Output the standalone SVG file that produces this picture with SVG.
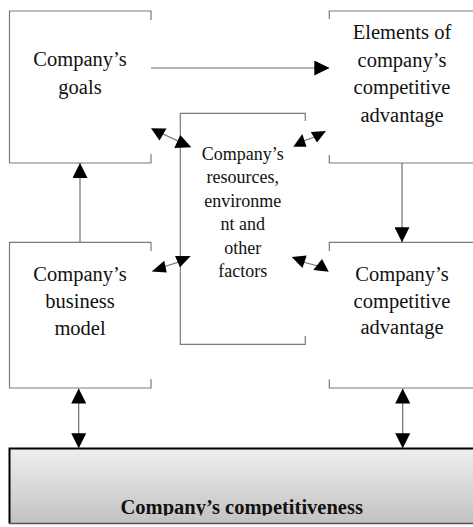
<svg xmlns="http://www.w3.org/2000/svg" width="473" height="527" viewBox="0 0 473 527">
<defs>
<style>
.b{fill:none;stroke:#7a7a7a;stroke-width:1.2}
.c{fill:none;stroke:#6e6e6e;stroke-width:1.2}
.h{fill:#000}
.t{font-family:"Liberation Serif","Times New Roman",serif;font-size:20.5px;fill:#111;text-anchor:middle}
.m{font-family:"Liberation Serif","Times New Roman",serif;font-size:18px;fill:#111;text-anchor:middle}
.k{font-family:"Liberation Serif","Times New Roman",serif;font-size:20.5px;font-weight:bold;fill:#111;text-anchor:middle}
</style>
<marker id="ah" viewBox="0 0 15 15" refX="15" refY="7.5" markerWidth="15" markerHeight="15" markerUnits="userSpaceOnUse" orient="auto-start-reverse">
<path d="M0,0 L15,7.5 L0,15 z" fill="#000"/>
</marker>
<linearGradient id="g" x1="0" y1="0" x2="0" y2="1">
<stop offset="0" stop-color="#efefef"/>
<stop offset="1" stop-color="#c2c2c2"/>
</linearGradient>
<clipPath id="clipB"><rect x="0" y="440" width="473" height="75.5"/></clipPath>
</defs>
<rect width="473" height="527" fill="#fff"/>

<g id="goals">
<path class="b" d="M151,20 V11 H9.5 V163 H151 V154"/>
<text class="t" x="80" y="65.7">Company’s</text>
<text class="t" x="80" y="94">goals</text>
</g>

<g id="elements">
<path class="b" d="M329.3,19 V11 H474"/>
<path class="b" d="M329.3,155 V163 H474"/>
<text class="t" x="402" y="39.3">Elements of</text>
<text class="t" x="402" y="66.7">company’s</text>
<text class="t" x="402" y="94.3">competitive</text>
<text class="t" x="402" y="121.7">advantage</text>
</g>

<g id="resources">
<path class="b" d="M305.3,121 V113.3 H180.3 V344.3 H305.3 V336"/>
<text class="m" x="242.8" y="160">Company’s</text>
<text class="m" x="242.8" y="183.3">resources,</text>
<text class="m" x="242.8" y="206.7">environme</text>
<text class="m" x="242.8" y="230">nt and</text>
<text class="m" x="242.8" y="253.5">other</text>
<text class="m" x="242.8" y="276.7">factors</text>
</g>

<g id="business-model">
<path class="b" d="M151,251 V242.3 H9.5 V388 H151 V379"/>
<text class="t" x="80" y="281">Company’s</text>
<text class="t" x="80" y="307.7">business</text>
<text class="t" x="80" y="335">model</text>
</g>

<g id="competitive-advantage">
<path class="b" d="M329.3,251 V242.3 H474"/>
<path class="b" d="M329.3,379.5 V388 H474"/>
<text class="t" x="402" y="281">Company’s</text>
<text class="t" x="402" y="307.7">competitive</text>
<text class="t" x="402" y="334">advantage</text>
</g>

<g id="competitiveness">
<rect x="9.5" y="448.5" width="470" height="75" fill="url(#g)" stroke="none"/>
<path d="M9.5,523.5 V448.5 H474" fill="none" stroke="#000" stroke-width="2"/>
<path d="M9.5,523.5 H474" fill="none" stroke="#555" stroke-width="1.5"/>
<text class="k" x="241.7" y="514" clip-path="url(#clipB)">Company’s competitiveness</text>
</g>

<g id="connectors">
<line class="c" x1="151" y1="68" x2="329.3" y2="68" marker-end="url(#ah)"/>
<line class="c" x1="402" y1="163" x2="402" y2="242.3" marker-end="url(#ah)"/>
<line class="c" x1="80" y1="242.3" x2="80" y2="163" marker-end="url(#ah)"/>
<line class="c" x1="78.7" y1="388.5" x2="78.7" y2="448.3" marker-start="url(#ah)" marker-end="url(#ah)"/>
<line class="c" x1="402.7" y1="388.5" x2="402.7" y2="448.3" marker-start="url(#ah)" marker-end="url(#ah)"/>

<line class="c" x1="163" y1="134" x2="178" y2="141"/>
<polygon class="h" points="151,128.3 166.5,128.5 159.5,140.5"/>
<polygon class="h" points="180.3,135 174.3,148 191.3,147.3"/>

<line class="c" x1="303" y1="141" x2="315" y2="137"/>
<polygon class="h" points="293.3,146.7 306.5,146.7 302.3,134"/>
<polygon class="h" points="310.8,132 326,131 317,142.5"/>

<line class="c" x1="163" y1="267" x2="179" y2="262"/>
<polygon class="h" points="151.7,271.5 164.3,260.7 166.7,272.5"/>
<polygon class="h" points="175,256 190.7,256 180,267.3"/>

<line class="c" x1="303" y1="262" x2="318" y2="266"/>
<polygon class="h" points="291.7,257 306.7,255.5 302.5,268"/>
<polygon class="h" points="313.3,270 322,259 328.8,271.7"/>
</g>
</svg>
